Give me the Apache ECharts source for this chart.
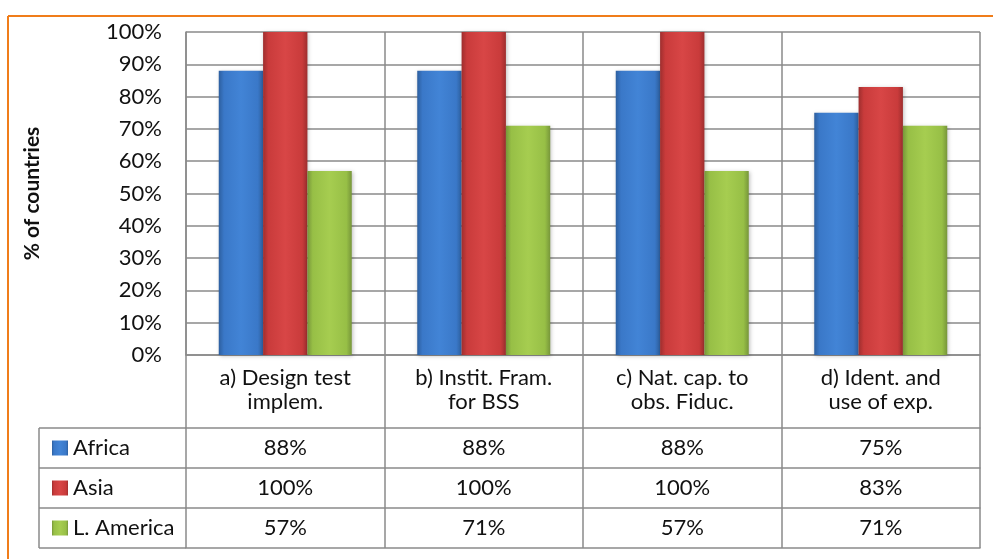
<html>
<head>
<meta charset="utf-8">
<title>% of countries</title>
<script src="https://cdn.jsdelivr.net/npm/echarts@6/dist/echarts.min.js"></script>
<style type="text/css">
body{margin:0;background:#fff;}
#chart{width:993px;height:559px;}
</style>
</head>
<body>
<div id="chart"></div>
<script type="text/javascript">
// data
var categories = ['a) Design test\nimplem.', 'b) Instit. Fram.\nfor BSS', 'c) Nat. cap. to\nobs. Fiduc.', 'd) Ident. and\nuse of exp.'];
var seriesNames = ['Africa', 'Asia', 'L. America'];
var africa = [88, 88, 88, 75];
var asia = [100, 100, 100, 83];
var lamerica = [57, 71, 57, 71];

var FONT = 'Lato';
var FS = 22;
var GRID_LEFT = 186, GRID_TOP = 32, GRID_BOTTOM_Y = 355, GRID_RIGHT_X = 980;
var HEAD_H = 73, ROW_H = 40;
var LINE = '#8a8a8a';

function pct(arr) { return arr.map(function (v) { return v + '%'; }); }

function barColor(dark, base, light) {
    return new echarts.graphic.LinearGradient(0, 0, 1, 0, [
        {offset: 0, color: dark},
        {offset: 0.12, color: base},
        {offset: 0.5, color: light},
        {offset: 0.88, color: base},
        {offset: 1, color: dark}
    ]);
}
var colors = [
    barColor('#2d5f9f', '#3a78c8', '#4284d6'),
    barColor('#9e2e2e', '#c93b3b', '#d84646'),
    barColor('#77963a', '#97bf46', '#a6cd50')
];

// one table row = one extra x axis below the grid
function rowAxis(values, offset, tickLen, margin, showLabel) {
    return {
        type: 'category',
        gridIndex: 0,
        position: 'bottom',
        offset: offset,
        data: values,
        axisLine: {show: true, lineStyle: {color: LINE, width: 1.5}},
        axisTick: {show: tickLen > 0, length: tickLen, lineStyle: {color: LINE, width: 1.5}},
        axisLabel: {show: showLabel, margin: margin, color: '#111', fontFamily: FONT, fontSize: FS, lineHeight: 20},
        splitLine: {show: false}
    };
}

var myChart = echarts.init(document.getElementById('chart'));

var headAxis = rowAxis(categories, 0, HEAD_H, 11, true);
headAxis.axisLabel.lineHeight = 24;
headAxis.splitLine = {show: true, lineStyle: {color: LINE, width: 1.5}};

var series = [africa, asia, lamerica].map(function (d, i) {
    return {
        name: seriesNames[i],
        type: 'bar',
        xAxisIndex: 0,
        data: d,
        barGap: 0,
        barCategoryGap: '33%',
        itemStyle: {
            color: colors[i],
            shadowBlur: 4,
            shadowOffsetX: 1,
            shadowOffsetY: 1,
            shadowColor: 'rgba(0,0,0,0.25)'
        }
    };
});

var tableLeft = 39;
var rowYs = [428, 468, 508, 548];
var graphics = [
    // orange frame
    {type: 'line', shape: {x1: 8, y1: 16, x2: 993, y2: 16}, style: {stroke: '#f07d1a', lineWidth: 2}},
    {type: 'line', shape: {x1: 8, y1: 16, x2: 8, y2: 559}, style: {stroke: '#f07d1a', lineWidth: 2}},
    // left legend column of the table
    {type: 'line', shape: {x1: tableLeft, y1: rowYs[0], x2: tableLeft, y2: rowYs[3]}, style: {stroke: LINE, lineWidth: 1.5}}
];
rowYs.forEach(function (y) {
    graphics.push({type: 'line', shape: {x1: tableLeft, y1: y, x2: GRID_LEFT, y2: y}, style: {stroke: LINE, lineWidth: 1.5}});
});

var option = {
    animation: false,
    backgroundColor: '#fff',
    textStyle: {fontFamily: FONT},
    grid: {
        left: GRID_LEFT,
        top: GRID_TOP,
        right: 993 - GRID_RIGHT_X,
        bottom: 559 - GRID_BOTTOM_Y,
        containLabel: false
    },
    legend: {
        orient: 'vertical',
        left: 47,
        top: 432,
        itemWidth: 16,
        itemHeight: 15,
        itemGap: 18,
        icon: 'rect',
        textStyle: {color: '#111', fontFamily: FONT, fontSize: FS, lineHeight: 20},
        data: seriesNames
    },
    xAxis: [
        headAxis,
        rowAxis(pct(africa), HEAD_H, ROW_H, 10, true),
        rowAxis(pct(asia), HEAD_H + ROW_H, ROW_H, 10, true),
        rowAxis(pct(lamerica), HEAD_H + ROW_H * 2, ROW_H, 10, true),
        rowAxis(categories, HEAD_H + ROW_H * 3, 0, 10, false)
    ],
    yAxis: {
        type: 'value',
        min: 0,
        max: 100,
        interval: 10,
        name: '% of countries',
        nameLocation: 'middle',
        nameGap: 143,
        nameTextStyle: {color: '#111', fontFamily: FONT, fontSize: 21, fontWeight: 'bold'},
        axisLine: {show: true, lineStyle: {color: LINE, width: 1.5}},
        axisTick: {show: false},
        axisLabel: {formatter: '{value}%', margin: 24, color: '#111', fontFamily: FONT, fontSize: FS},
        splitLine: {show: true, lineStyle: {color: LINE, width: 1.5}}
    },
    series: series,
    graphic: graphics
};

myChart.setOption(option);
</script>
</body>
</html>
